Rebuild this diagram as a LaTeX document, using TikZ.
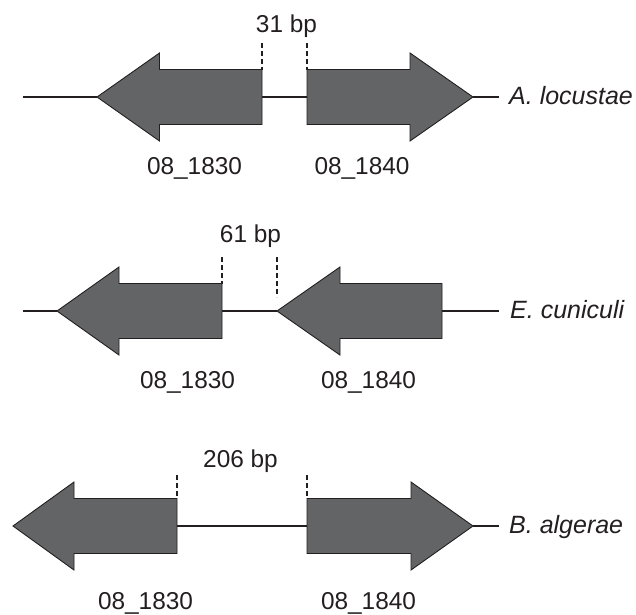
\documentclass[tikz,border=0pt]{standalone}
\usepackage{fontspec}
\setmainfont{Liberation Sans}
\definecolor{genegray}{RGB}{99,100,102}
\definecolor{ink}{RGB}{35,31,32}
\newcommand{\genearrow}[5]{% tail x, head-back x, tip x, y, name
  \draw[genebody] (#1,#4-27.5) -- (#2,#4-27.5) -- (#2,#4-44) -- (#3,#4) -- (#2,#4+44) -- (#2,#4+27.5) -- (#1,#4+27.5) -- cycle;
  \coordinate (#5tail) at (#1,#4);
  \coordinate (#5tip) at (#3,#4);
  \coordinate (#5top) at (#1,#4-27.5);
}
\begin{document}
\begin{tikzpicture}[x=1pt,y=-1pt,
  genebody/.style={fill=genegray,draw=ink,line width=0.9pt,line join=miter},
  dna/.style={draw=ink,line width=1.1pt},
  gap/.style={draw=ink,line width=1.1pt,dash pattern=on 5pt off 3pt},
  lbl/.style={text=ink,inner sep=0pt,anchor=base,font=\fontsize{24.4}{29}\selectfont},
  species/.style={text=ink,inner sep=0pt,anchor=base west,font=\fontsize{25}{30}\selectfont\itshape}]
\useasboundingbox[fill=white] (0,0) rectangle (636,614);

% ---- Row 1: A. locustae ----
\coordinate (r1start) at (23,97);
\coordinate (r1end) at (499,97);
\draw[dna] (r1start) -- (97,97);
\draw[dna] (262,97) -- (307,97);
\draw[dna] (473,97) -- (r1end);
\genearrow{262}{159.5}{97}{97}{a1}
\genearrow{307}{410}{473}{97}{a2}
\coordinate (a1d) at (262,43);
\coordinate (a2d) at (307,43);
\draw[gap] (a1d) -- (a1top);
\draw[gap] (a2d) -- (a2top);
\node[lbl] (a31) at (286.5,32) {31 bp};
\node[lbl] (a1l) at (194.5,174) {08\_1830};
\node[lbl] (a2l) at (362,174) {08\_1840};
\node[species] (asp) at (509,104.5) {A. locustae};

% ---- Row 2: E. cuniculi ----
\coordinate (r2start) at (23,311);
\coordinate (r2end) at (499,311);
\draw[dna] (r2start) -- (57,311);
\draw[dna] (222,311) -- (277,311);
\draw[dna] (442,311) -- (r2end);
\genearrow{222}{119}{57}{311}{e1}
\genearrow{442}{340}{277}{311}{e2}
\coordinate (e1d) at (222,257);
\coordinate (e2d) at (277,257);
\coordinate (e2e) at (277,297);
\draw[gap] (e1d) -- (e1top);
\draw[gap] (e2d) -- (e2e);
\node[lbl] (e61) at (250.5,242) {61 bp};
\node[lbl] (e1l) at (187.5,388) {08\_1830};
\node[lbl] (e2l) at (368.5,388) {08\_1840};
\node[species] (esp) at (510,318.5) {E. cuniculi};

% ---- Row 3: B. algerae ----
\coordinate (r3end) at (499,526);
\draw[dna] (177,526) -- (307,526);
\draw[dna] (473,526) -- (r3end);
\genearrow{177}{74}{13}{526}{b1}
\genearrow{307}{411}{473}{526}{b2}
\coordinate (b1d) at (177,475);
\coordinate (b2d) at (307,475);
\draw[gap] (b1d) -- (b1top);
\draw[gap] (b2d) -- (b2top);
\node[lbl] (b206) at (240.5,467) {206 bp};
\node[lbl] (b1l) at (145.5,609) {08\_1830};
\node[lbl] (b2l) at (368.5,609) {08\_1840};
\node[species] (bsp) at (509,533.5) {B. algerae};
\end{tikzpicture}
\end{document}
